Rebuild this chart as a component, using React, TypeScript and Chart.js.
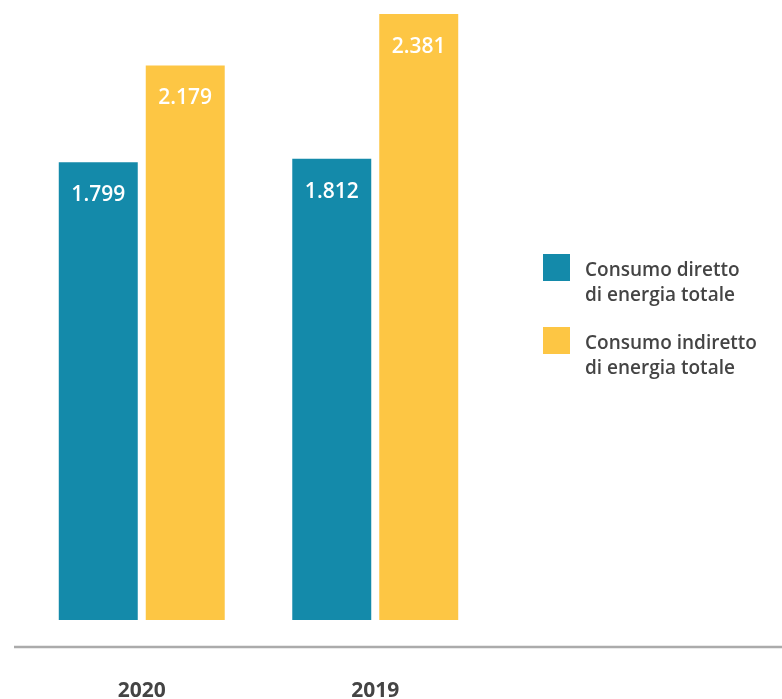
import React, { useEffect, useRef } from "react";
import { Chart, registerables } from "chart.js";

Chart.register(...registerables);

const categories = ["2020", "2019"];
const directValues = [1799, 1812];
const indirectValues = [2179, 2381];
const seriesNames = [
  ["Consumo diretto", "di energia totale"],
  ["Consumo indiretto", "di energia totale"],
];
const colors = ["#148aaa", "#fdc644"];
const FONT = "'Open Sans', Lato, sans-serif";

function fmt(v: number): string {
  const s = String(Math.round(v));
  return s.replace(/\B(?=(\d{3})+(?!\d))/g, ".");
}

const barLabels = {
  id: "barLabels",
  afterDatasetsDraw(chart: any) {
    const ctx = chart.ctx;
    ctx.save();
    ctx.fillStyle = "#ffffff";
    ctx.font = `600 21px ${FONT}`;
    ctx.textAlign = "center";
    ctx.textBaseline = "middle";
    chart.data.datasets.forEach((ds: any, di: number) => {
      const meta = chart.getDatasetMeta(di);
      meta.data.forEach((bar: any, i: number) => {
        ctx.fillText(fmt(ds.data[i]), bar.x, bar.y + 33);
      });
    });
    ctx.restore();
  },
};

const baseLine = {
  id: "baseLine",
  afterDraw(chart: any) {
    const ctx = chart.ctx;
    const y = chart.chartArea.bottom + 27;
    ctx.save();
    ctx.strokeStyle = "#ababab";
    ctx.lineWidth = 2.5;
    ctx.beginPath();
    ctx.moveTo(14, y);
    ctx.lineTo(chart.width, y);
    ctx.stroke();
    ctx.restore();
  },
};

export default function App() {
  const ref = useRef<HTMLCanvasElement | null>(null);
  useEffect(() => {
    if (!ref.current) return;
    const chart = new Chart(ref.current, {
      type: "bar",
      data: {
        labels: categories,
        datasets: [
          {
            label: seriesNames[0].join(" "),
            data: directValues,
            backgroundColor: colors[0],
            categoryPercentage: 0.745,
            barPercentage: 0.908,
          },
          {
            label: seriesNames[1].join(" "),
            data: indirectValues,
            backgroundColor: colors[1],
            categoryPercentage: 0.745,
            barPercentage: 0.908,
          },
        ],
      },
      options: {
        animation: false,
        responsive: true,
        maintainAspectRatio: false,
        layout: { padding: { left: 25, right: 290, top: 14, bottom: 0 } },
        plugins: { legend: { display: false }, tooltip: { enabled: false } },
        scales: {
          x: {
            grid: { display: false },
            border: { display: false },
            afterFit: (scale: any) => {
              scale.height = 79;
            },
            ticks: {
              padding: 50,
              color: "#444444",
              font: { family: FONT, size: 21, weight: "bold" },
            },
          },
          y: {
            display: false,
            min: 0,
            max: 2381,
          },
        },
      },
      plugins: [barLabels, baseLine],
    });
    return () => chart.destroy();
  }, []);

  const legendItem = (i: number, top: number) => (
    <div key={i}>
      <div
        style={{
          position: "absolute",
          left: 543,
          top,
          width: 27,
          height: 27,
          background: colors[i],
        }}
      />
      <div
        style={{
          position: "absolute",
          left: 585,
          top: top + 3,
          fontFamily: FONT,
          fontWeight: 600,
          fontSize: 19,
          lineHeight: "25px",
          color: "#444444",
          whiteSpace: "nowrap",
        }}
      >
        {seriesNames[i].map((l, k) => (
          <div key={k}>{l}</div>
        ))}
      </div>
    </div>
  );

  return (
    <div
      style={{
        position: "absolute",
        left: 0,
        top: 0,
        width: 782,
        height: 699,
        background: "#ffffff",
        overflow: "hidden",
      }}
    >
      <div style={{ position: "absolute", left: 0, top: 0, width: 782, height: 699 }}>
        <canvas ref={ref} />
      </div>
      {legendItem(0, 254)}
      {legendItem(1, 327)}
    </div>
  );
}
